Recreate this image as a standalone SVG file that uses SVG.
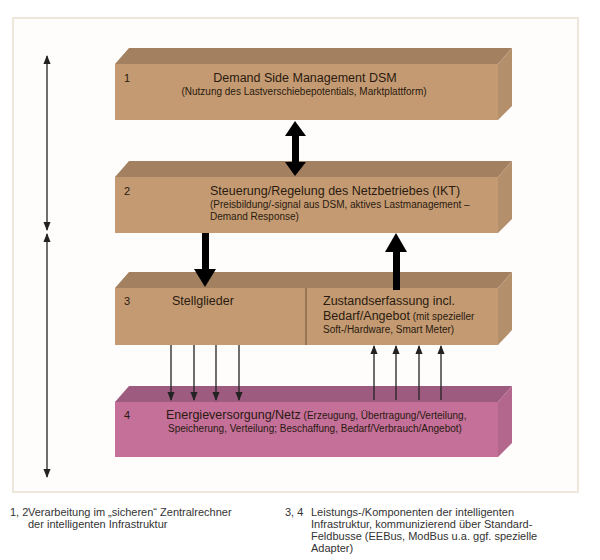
<svg xmlns="http://www.w3.org/2000/svg" width="600" height="560" viewBox="0 0 600 560">
<defs>
<style>
text{font-family:"Liberation Sans",Arial,sans-serif;fill:#2a1a10}
.t{font-size:12.5px}.s{font-size:10px}.n{font-size:11px}
.l{font-size:11px;fill:#333}
.fr{fill:#C49A72}.tp{fill:#A3805F}.sd{fill:#B48F6B}
.pfr{fill:#C47099}.ptp{fill:#9E5B80}.psd{fill:#B3678C}
.thin{stroke:#222;stroke-width:1.3;fill:none}
</style>
<marker id="a" viewBox="0 0 10 10" refX="9" refY="5" markerWidth="7" markerHeight="7" orient="auto-start-reverse"><path d="M0,1 L10,5 L0,9z" fill="#222"/></marker>
</defs>
<rect x="0" y="0" width="600" height="560" fill="#fff"/>
<rect x="13" y="18" width="565" height="474" fill="#fefdfb" stroke="#efe6dc" stroke-width="2"/>
<g id="box1">
<polygon class="tp" points="115,64 129,48 512,48 498,64"/>
<polygon class="sd" points="498,64 512,48 512,106 498,120"/>
<rect class="fr" x="115" y="64" width="383" height="56"/>
<text class="n" x="124" y="82">1</text>
<text class="t" x="305" y="82" text-anchor="middle">Demand Side Management DSM</text>
<text class="s" x="304" y="95" text-anchor="middle">(Nutzung des Lastverschiebepotentials, Marktplattform)</text>
</g>
<g id="box2">
<polygon class="tp" points="115,177 129,161 512,161 498,177"/>
<polygon class="sd" points="498,177 512,161 512,219 498,233"/>
<rect class="fr" x="115" y="177" width="383" height="56"/>
<text class="n" x="124" y="195">2</text>
<text class="t" x="210" y="195">Steuerung/Regelung des Netzbetriebes (IKT)</text>
<text class="s" x="210" y="208">(Preisbildung/-signal aus DSM, aktives Lastmanagement –</text>
<text class="s" x="210" y="220">Demand Response)</text>
</g>
<g id="box3">
<polygon class="tp" points="115,288 129,272 512,272 498,288"/>
<polygon class="sd" points="498,288 512,272 512,330 498,345"/>
<rect class="fr" x="115" y="288" width="383" height="57"/>
<line x1="306" y1="288" x2="306" y2="345" stroke="#6b5038" stroke-width="1"/>
<text class="n" x="124" y="305">3</text>
<text class="t" x="172" y="305">Stellglieder</text>
<text class="t" x="323" y="305">Zustandserfassung incl.</text>
<text x="323" y="320"><tspan class="t">Bedarf/Angebot</tspan><tspan class="s"> (mit spezieller</tspan></text>
<text class="s" x="323" y="333">Soft-/Hardware, Smart Meter)</text>
</g>
<g id="box4">
<polygon class="ptp" points="115,402 129,386 512,386 498,402"/>
<polygon class="psd" points="498,402 512,386 512,443 498,457"/>
<rect class="pfr" x="115" y="402" width="383" height="55"/>
<text class="n" x="124" y="419">4</text>
<text x="166" y="419"><tspan class="t">Energieversorgung/Netz</tspan><tspan class="s"> (Erzeugung, Übertragung/Verteilung,</tspan></text>
<text class="s" x="168" y="432">Speicherung, Verteilung; Beschaffung, Bedarf/Verbrauch/Angebot)</text>
</g>
<g id="connectors">
<line class="thin" x1="47" y1="56" x2="47" y2="230" marker-start="url(#a)" marker-end="url(#a)"/>
<line class="thin" x1="47" y1="234" x2="47" y2="477" marker-start="url(#a)" marker-end="url(#a)"/>
<rect x="292" y="134" width="7" height="30" fill="#000"/>
<polygon points="285,136 295,121 306,136" fill="#000"/>
<polygon points="285,162 295,176 306,162" fill="#000"/>
<rect x="202" y="233" width="7" height="38" fill="#000"/>
<polygon points="194,269 205,287 216,269" fill="#000"/>
<rect x="393" y="250" width="7" height="40" fill="#000"/>
<polygon points="385,252 396,233 407,252" fill="#000"/>
<line class="thin" x1="171" y1="345" x2="171" y2="400" marker-end="url(#a)"/>
<line class="thin" x1="194" y1="345" x2="194" y2="400" marker-end="url(#a)"/>
<line class="thin" x1="216" y1="345" x2="216" y2="400" marker-end="url(#a)"/>
<line class="thin" x1="239" y1="345" x2="239" y2="400" marker-end="url(#a)"/>
<line class="thin" x1="374" y1="400" x2="374" y2="346" marker-end="url(#a)"/>
<line class="thin" x1="396" y1="400" x2="396" y2="346" marker-end="url(#a)"/>
<line class="thin" x1="419" y1="400" x2="419" y2="346" marker-end="url(#a)"/>
<line class="thin" x1="441" y1="400" x2="441" y2="346" marker-end="url(#a)"/>
</g>
<g id="legend">
<text class="l" x="10" y="516">1, 2</text>
<text class="l" x="28" y="516">Verarbeitung im „sicheren“ Zentralrechner</text>
<text class="l" x="28" y="528">der intelligenten Infrastruktur</text>
<text class="l" x="285" y="516">3, 4</text>
<text class="l" x="311" y="516">Leistungs-/Komponenten der intelligenten</text>
<text class="l" x="311" y="528">Infrastruktur,  kommunizierend über Standard-</text>
<text class="l" x="311" y="540">Feldbusse (EEBus, ModBus u.a. ggf. spezielle</text>
<text class="l" x="311" y="552">Adapter)</text>
</g>
</svg>
